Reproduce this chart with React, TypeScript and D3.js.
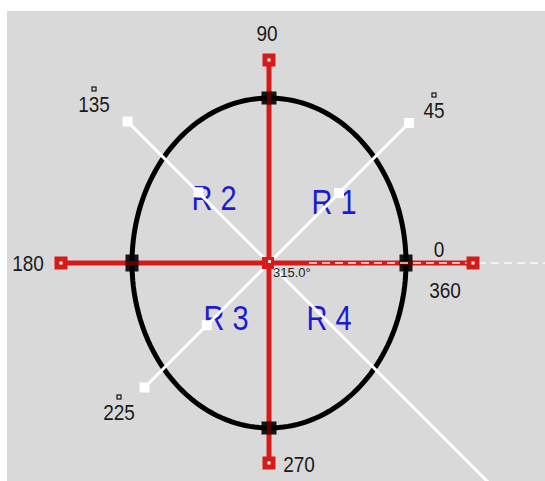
import React from "react";
import * as d3 from "d3";

// ---- data ----
const axisAngles = [0, 90, 180, 270];
const axisLengths = [204, 203, 208, 200];
const diagAngles = [45, 135, 225, 315];
const diagLengths = [198, 200, 176, 440];
const regionLabels = ["R 1", "R 2", "R 3", "R 4"];
const tickLabels = ["0", "45", "90", "135", "180", "225", "270", "360"];
const selectedAngle = 315.0;

// ---- layout ----
const W = 545, H = 481;
const cx = 269, cy = 263;
const rx = 137, ry = 165;
const RED = "#d61a1a";
const BLUE = "#1c1ccf";

const rad = d3.scaleLinear().domain([0, 360]).range([0, 2 * Math.PI]);
const pt = (a: number, r: number): [number, number] => [
  cx + r * Math.cos(rad(a)),
  cy - r * Math.sin(rad(a)),
];

// label placements (center x, baseline y)
const tickPos: Record<string, [number, number]> = {
  "0": [439, 257],
  "45": [434, 118],
  "90": [267, 41],
  "135": [94, 112],
  "180": [28, 271],
  "225": [119, 420],
  "270": [299, 472],
  "360": [445, 298],
};
const degMarks: Record<string, boolean> = { "45": true, "135": true, "225": true };
const regionPos: [number, number][] = [
  [334, 214],
  [214, 210],
  [226, 330],
  [329, 330],
];

export default function App() {
  const line = d3.line();
  const ellipsePts = d3.range(0, 361, 2).map((a) => [
    cx + rx * Math.cos(rad(a)),
    cy - ry * Math.sin(rad(a)),
  ] as [number, number]);

  const crossings = axisAngles.map((a) => {
    const p: [number, number] = [cx + rx * Math.cos(rad(a)), cy - ry * Math.sin(rad(a))];
    const vertical = a === 90 || a === 270;
    return { p, w: vertical ? 15 : 13, h: vertical ? 13 : 17 };
  });

  return (
    <svg width={W} height={H} style={{ position: "absolute", left: 0, top: 0 }}>
      <rect x={0} y={0} width={W} height={H} fill="#ffffff" />
      <rect x={7} y={11} width={W - 7} height={H - 11} fill="#d9d9d9" />

      {/* ellipse */}
      <path d={line(ellipsePts) || ""} fill="none" stroke="#000" strokeWidth={5} />

      {/* region labels */}
      {regionLabels.map((t, i) => (
        <text
          key={t}
          transform={`translate(${regionPos[i][0]},${regionPos[i][1]}) scale(1,1.2)`}
          textAnchor="middle"
          fontFamily="Liberation Sans, Arial, sans-serif"
          fontSize={29}
          fill={BLUE}
        >
          {t}
        </text>
      ))}

      {/* white diagonal lines */}
      {diagAngles.map((a, i) => {
        const e = pt(a, diagLengths[i]);
        return (
          <line key={a} x1={cx} y1={cy} x2={e[0]} y2={e[1]} stroke="#ffffff" strokeWidth={3} />
        );
      })}
      {diagAngles.slice(0, 3).map((a, i) => {
        const e = pt(a, diagLengths[i]);
        const m = pt(a, diagLengths[i] / 2);
        return (
          <g key={"sq" + a}>
            <rect x={e[0] - 5} y={e[1] - 5} width={10} height={10} fill="#ffffff" />
            <rect x={m[0] - 5} y={m[1] - 5} width={10} height={10} fill="#ffffff" />
          </g>
        );
      })}

      {/* red axes */}
      {axisAngles.map((a, i) => {
        const e = pt(a, axisLengths[i]);
        return <line key={a} x1={cx} y1={cy} x2={e[0]} y2={e[1]} stroke={RED} strokeWidth={5} />;
      })}

      {/* ellipse crossing ticks */}
      {crossings.map((c, i) => (
        <rect key={i} x={c.p[0] - c.w / 2} y={c.p[1] - c.h / 2} width={c.w} height={c.h} fill="#000" opacity={0.9} />
      ))}
      {crossings.map((c, i) => {
        const a = axisAngles[i];
        const vertical = a === 90 || a === 270;
        return vertical ? (
          <line key={"c" + i} x1={c.p[0]} y1={c.p[1] - 6} x2={c.p[0]} y2={c.p[1] + 6} stroke="#5a0000" strokeWidth={4} />
        ) : (
          <line key={"c" + i} x1={c.p[0] - 6} y1={c.p[1]} x2={c.p[0] + 6} y2={c.p[1]} stroke="#5a0000" strokeWidth={4} />
        );
      })}

      {/* dashed white line along 0 axis */}
      <line
        x1={pt(0, 40)[0]}
        y1={cy}
        x2={W}
        y2={cy}
        stroke="#ffffff"
        strokeWidth={1.5}
        strokeDasharray="8,5"
        opacity={0.9}
      />

      {/* red end markers */}
      {axisAngles.map((a, i) => {
        const e = pt(a, axisLengths[i]);
        return (
          <g key={"m" + a}>
            <rect x={e[0] - 6.5} y={e[1] - 6.5} width={13} height={13} fill={RED} />
            <rect x={e[0] - 1.5} y={e[1] - 1.5} width={3} height={3} fill="#ffffff" />
          </g>
        );
      })}
      {/* center marker */}
      <rect x={cx - 7} y={cy - 6} width={12} height={12} fill={RED} />
      <rect x={cx - 1} y={cy - 3} width={3} height={3} fill="#ffe0e0" />

      {/* tick labels */}
      {tickLabels.map((t) => (
        <g key={t}>
          <text
            transform={`translate(${tickPos[t][0]},${tickPos[t][1]}) scale(0.95,1.12)`}
            textAnchor="middle"
            fontFamily="Liberation Sans, Arial, sans-serif"
            fontSize={20}
            fill="#1a1a1a"
          >
            {t}
          </text>
          {degMarks[t] && (
            <rect
              x={tickPos[t][0] - 2}
              y={tickPos[t][1] - 25}
              width={4}
              height={4}
              fill="none"
              stroke="#111"
              strokeWidth={1.2}
            />
          )}
        </g>
      ))}

      {/* selected angle */}
      <text
        x={273}
        y={277}
        fontFamily="Liberation Sans, Arial, sans-serif"
        fontSize={13}
        fill="#222"
      >
        {selectedAngle.toFixed(1) + "°"}
      </text>
    </svg>
  );
}
